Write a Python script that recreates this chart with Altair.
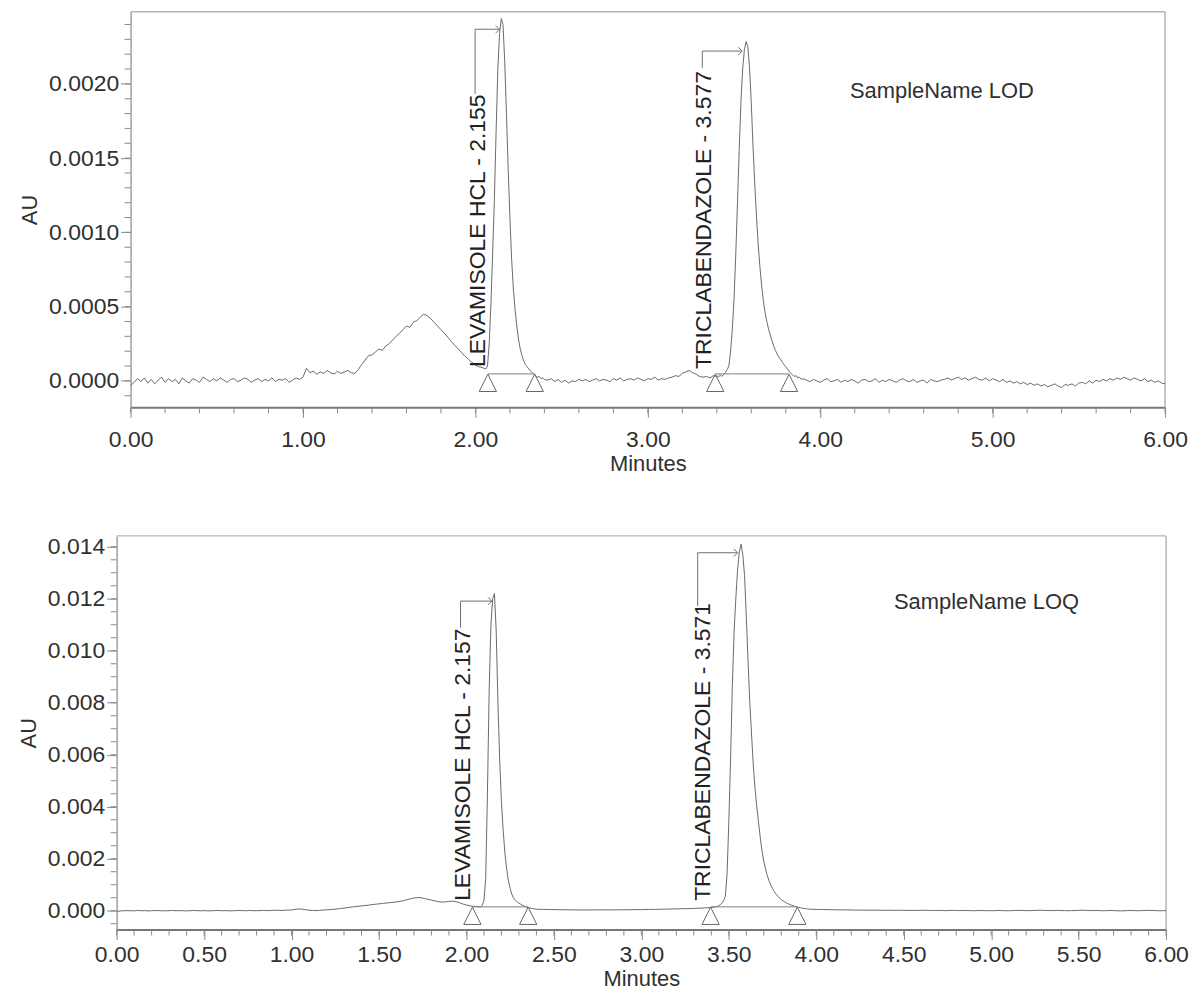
import numpy as np
import pandas as pd
import altair as alt

FONT = "Liberation Sans"
TXT = "#303030"
AXC = "#8a8a8a"
LINE = "#6a6a6a"
FRAME = "#b5b5b5"

# ---------------- LOD chromatogram (values in micro-AU) ----------------
# each segment: (start minute, sampling step, values)
lod_segments = [
    (0.00, 0.02, [-30, -10, 15, -5, 20, -15, 10, -20, 5, 25,
                  -10, 15, -5, 10, -20, 20, 0, -15, 15, 5,
                  -10, 25, 10, -5, 15, 0, 20, 5, -10, 10,
                  15, -5, 5, 20, 10, -10, 5, 15, -5, 10,
                  0, 20, -5, 10, 5, 15, -10, 5, 20, 10]),
    (1.00, 0.02, [25, 85, 55, 65, 45, 60, 50, 70, 55, 45, 65, 50, 60, 70, 55, 50]),
    (1.32, 0.02, [75, 110, 140, 170, 175, 195, 215, 205, 235, 250,
                  275, 300, 320, 345, 370, 360, 395, 405, 430, 448]),
    (1.72, 0.02, [440, 420, 395, 370, 345, 320, 295, 265, 240, 215,
                  190, 165, 145, 125, 105, 95, 90]),
    (2.05, 0.01, [85, 80, 100, 250, 520, 860, 1220, 1680, 2100, 2340,
                  2440, 2400, 2150, 1800, 1430, 1100, 820, 620, 480, 370,
                  280, 215, 170, 135, 110, 95, 80, 65, 55, 45,
                  35, 25, 30, 15, 20, 10]),
    (2.42, 0.02, [5, 15, -5, 10, -10, 5, -15, 0, -5, 10,
                  0, 10, -5, 5, 15, 0, 10, 5, -5, 15,
                  5, 20, 0, 10, 15, 5, 20, 10, 0, 15,
                  10, 25, 5, 15, 10, 20,
                  25, 35, 30, 50, 60, 70, 55, 45, 30, 25, 30, 20, 35]),
    (3.39, 0.01, [30, 35, 25, 40, 30, 45, 55, 75, 100, 200,
                  350, 550, 850, 1200, 1560, 1880, 2100, 2230, 2285, 2250,
                  2110, 1870, 1580, 1330, 1110, 920, 770, 640, 540, 460,
                  400, 350, 310, 270, 235, 205, 180, 160, 145, 125,
                  110, 95, 80, 65, 50, 40, 30, 35, 20, 25, 10, 15]),
    (3.92, 0.02, [5, -5, 10, 0, -10, 5, 15, -5, 0, 10,
                  -10, 5, -5, 10, 0, -15, 5, 10, -5, 0,
                  15, -10, 5, -5, 10, 0, -10, 5, 15, 0,
                  -5, 10, -10, 0, 5, -15, 10, 0, -5, 5,
                  10, 20, 5, 15, 25, 10, 20, 5, 15, 25,
                  10, 5, 20, 0, 15, 5, -5, 10, -10, 0,
                  -15, -5, -20, -10, -25, -15, -30, -20, -35, -25,
                  -40, -30, -20, -35, -45, -25, -30, -20, -35, -15,
                  -10, -20, 0, -15, 5, -5, 10, 0, 15, 5,
                  20, 10, 25, 15, 5, 20, 10, 0, 15, -5,
                  5, -10, 0, -15, -20]),
]

# ---------------- LOQ chromatogram (values in micro-AU) ----------------
loq_segments = [
    (0.00, 0.02, [-30, -10, 0, 5, 0, -5, 10, 0, 5, -5,
                  0, 10, 5, 0, -5, 5, 10, 0, 5, 0,
                  -5, 0, 10, 5, 0, 5, -5, 0, 5, 10,
                  0, 5, 0, -5, 5, 10, 5, 0, 10, 5,
                  0, 10, 15, 5, 10, 20, 15, 10, 20, 25]),
    (1.00, 0.02, [30, 50, 70, 60, 40, 20, 10, 5, 15, 25, 35]),
    (1.22, 0.02, [45, 55, 70, 85, 100, 120, 140, 155, 170, 185,
                  200, 215, 235, 250, 265, 280, 295, 310, 325, 340]),
    (1.62, 0.02, [360, 390, 420, 460, 490, 510, 500, 470, 440, 410]),
    (1.82, 0.02, [380, 350, 335, 340, 360, 370, 350, 310, 260, 220, 190, 170, 160, 150]),
    (2.09, 0.01, [200, 400, 1200, 4500, 8500, 11000, 12000, 12200, 10800, 8000,
                  5800, 4200, 3100, 2200, 1600, 1150, 850, 620, 480, 400,
                  340, 290, 250, 210, 180, 150, 130, 110, 95, 80, 70, 60]),
    (2.42, 0.02, [55, 50, 50, 45, 45, 40, 40, 40, 35, 35,
                  35, 30, 30, 30, 30, 35, 30, 30, 35, 35,
                  30, 35, 35, 40, 35, 40, 40, 45, 40, 45,
                  45, 50, 50, 55, 55, 60, 60, 65, 70, 70,
                  75, 80, 80, 85, 90, 95, 100, 110, 115, 125, 140]),
    (3.43, 0.01, [160, 190, 230, 290, 380, 550, 1400, 3400, 5800, 8600,
                  10700, 12000, 13100, 13800, 14100, 13700, 12900, 11300, 9600, 8000,
                  6800, 5600, 4700, 4000, 3400, 2800, 2300, 1900, 1600, 1350,
                  1150, 980, 850, 740, 640, 560, 490, 430, 380, 340,
                  300, 265, 235, 210, 185, 165, 145, 130, 115, 100, 90, 80, 70]),
    (3.96, 0.02, [60, 55, 50, 50, 45, 45, 40, 40, 35, 35,
                  30, 30, 30, 25, 25, 25, 20, 20, 25, 20,
                  20, 15, 20, 20, 15, 15, 20, 15, 10, 15,
                  15, 10, 15, 20, 15, 10, 10, 15, 10, 5,
                  10, 15, 10, 5, 10, 10, 5, 0, 5, 10,
                  5, 5, 0, 5, 10, 5, 0, 0, 5, 10,
                  15, 10, 5, 5, 10, 15, 20, 15, 10, 5,
                  10, 15, 10, 5, 0, 5, 10, 15, 20, 15,
                  10, 5, 10, 5, 0, 5, 10, 5, 0, -5,
                  0, 5, 10, 5, 0, 5, 10, 15, 10, 5,
                  0, 0, 5]),
]

# ---------------- peak annotations ----------------
lod_peak_label = ["LEVAMISOLE HCL - 2.155", "TRICLABENDAZOLE - 3.577"]
lod_peak_tx = [2.057, 3.368]        # label baseline position (min)
lod_peak_ty = [0.000094, 0.000080]  # label start (AU)
lod_peak_vx = [1.998, 3.316]        # bracket vertical (min)
lod_peak_tt = [0.001933, 0.002107]  # bracket lower end (AU)
lod_peak_by = [0.002368, 0.002221]  # bracket level (AU)
lod_peak_tip = [2.140, 3.547]       # arrow tip (min)

loq_peak_label = ["LEVAMISOLE HCL - 2.157", "TRICLABENDAZOLE - 3.571"]
loq_peak_tx = [2.023, 3.390]
loq_peak_ty = [0.00038, 0.00038]
loq_peak_vx = [1.966, 3.322]
loq_peak_tt = [0.01088, 0.01172]
loq_peak_by = [0.01191, 0.01377]
loq_peak_tip = [2.145, 3.550]

# integration markers (baseline start/end)
lod_mark_t = [2.072, 2.344, 3.391, 3.819]
lod_mark_y = [0.000047, 0.000047, 0.000047, 0.000047]
loq_mark_t = [2.034, 2.353, 3.396, 3.892]
loq_mark_y = [0.00015, 0.00015, 0.00015, 0.00015]

# axis ticks
lod_y_ticks = [0.0, 0.0005, 0.0010, 0.0015, 0.0020]
loq_y_ticks = [0.0, 0.002, 0.004, 0.006, 0.008, 0.010, 0.012, 0.014]
lod_x_ticks = [0.0, 1.0, 2.0, 3.0, 4.0, 5.0, 6.0]
loq_x_ticks = [0.0, 0.5, 1.0, 1.5, 2.0, 2.5, 3.0, 3.5, 4.0, 4.5, 5.0, 5.5, 6.0]


def to_frame(segments):
    t, v = [], []
    for start, step, vals in segments:
        for i, val in enumerate(vals):
            t.append(round(start + step * i, 4))
            v.append(val * 1e-6)
    return pd.DataFrame({"t": t, "au": v})


def peaks_frame(label, tx, ty, vx, tt, by, tip):
    return pd.DataFrame({"label": label, "tx": tx, "ty": ty, "vx": vx,
                         "tt": tt, "by": by, "tip": tip})


def marks_frame(t, y):
    return pd.DataFrame({"t": t, "y": y})


def panel(trace, W, H, inset, ydom, yticks, yfmt, yminor, xticks, xminor, xlabpad, xtitlepad,
          peaks, marks, sample, sx, sy):
    # inset: empty pixels at the left of the plot group before the data area starts
    xs = alt.Scale(domain=[0, 6], nice=False, zero=False, range=[inset, W])
    ys = alt.Scale(domain=ydom, nice=False, zero=False)
    xaxis = alt.Axis(values=xticks, format=".2f", title="Minutes", tickSize=10,
                     labelPadding=xlabpad, titlePadding=xtitlepad)
    yaxis = alt.Axis(values=yticks, format=yfmt, title="AU", tickSize=10,
                     labelPadding=2, titlePadding=7, offset=-inset)

    def X(f):
        return alt.X(f, scale=xs, axis=xaxis)

    def Y(f):
        return alt.Y(f, scale=ys, axis=yaxis)

    line = alt.Chart(trace).mark_line(color=LINE, strokeWidth=1, clip=True).encode(
        x=X("t:Q"), y=Y("au:Q"))
    ymin = alt.Chart(pd.DataFrame({"v": yminor})).mark_rule(color=AXC, strokeWidth=1).encode(
        y=Y("v:Q"), x=alt.value(inset - 6), x2=alt.value(inset))
    xmin = alt.Chart(pd.DataFrame({"v": xminor})).mark_rule(color=AXC, strokeWidth=1).encode(
        x=X("v:Q"), y=alt.value(H), y2=alt.value(H + 6))

    segs = pd.DataFrame({"t1": [marks["t"].iloc[0], marks["t"].iloc[2]],
                         "t2": [marks["t"].iloc[1], marks["t"].iloc[3]],
                         "y": [marks["y"].iloc[0], marks["y"].iloc[2]]})
    base = alt.Chart(segs).mark_rule(color="#808080", strokeWidth=1).encode(
        x=X("t1:Q"), x2="t2:Q", y=Y("y:Q"))
    tri = alt.Chart(marks).mark_point(shape="M0,-1L1,1L-1,1Z", filled=False, size=300,
                                      yOffset=9, color="#666666", strokeWidth=1,
                                      opacity=1).encode(x=X("t:Q"), y=Y("y:Q"))

    pk = alt.Chart(peaks)
    vline = pk.mark_rule(color="#707070", strokeWidth=1).encode(
        x=X("vx:Q"), y=Y("tt:Q"), y2="by:Q")
    hline = pk.mark_rule(color="#707070", strokeWidth=1).encode(
        x=X("vx:Q"), x2="tip:Q", y=Y("by:Q"))
    arrow = pk.mark_point(shape="M-1,-1L0,0L-1,1", filled=False, size=60,
                          color="#707070", strokeWidth=1, opacity=1).encode(
        x=X("tip:Q"), y=Y("by:Q"))
    labels = pk.mark_text(angle=270, align="left", baseline="alphabetic", fontSize=23,
                          font=FONT, color="#222222").encode(
        x=X("tx:Q"), y=Y("ty:Q"), text="label:N")

    sname = alt.Chart(pd.DataFrame({"s": [sample]})).mark_text(
        align="left", baseline="middle", fontSize=22, font=FONT, color=TXT).encode(
        x=X("sx:Q"), y=Y("sy:Q"), text="s:N").transform_calculate(sx=str(sx), sy=str(sy))

    # plot frame (top and right edges)
    ftop = alt.Chart(pd.DataFrame({"k": [0]})).mark_rule(color=FRAME, strokeWidth=1.5).encode(
        x=alt.value(inset), x2=alt.value(W), y=alt.value(0))
    fright = alt.Chart(pd.DataFrame({"k": [0]})).mark_rule(color=FRAME, strokeWidth=1.5).encode(
        x=alt.value(W), y=alt.value(0), y2=alt.value(H))

    return alt.layer(ftop, fright, line, ymin, xmin, base, tri, vline, hline, arrow, labels,
                     sname).properties(width=W, height=H,
                                       view=alt.ViewBackground(strokeOpacity=0))


top = panel(to_frame(lod_segments), 1052, 397, 14, [-0.000178, 0.0024863], lod_y_ticks, ".4f",
            list(np.round(np.arange(-0.0001, 0.00245, 0.0001), 6)),
            lod_x_ticks, list(np.round(np.arange(0, 6.001, 0.2), 3)), 11, 2,
            peaks_frame(lod_peak_label, lod_peak_tx, lod_peak_ty, lod_peak_vx,
                        lod_peak_tt, lod_peak_by, lod_peak_tip),
            marks_frame(lod_mark_t, lod_mark_y), "SampleName LOD", 4.172, 0.001953)

bottom = panel(to_frame(loq_segments), 1053, 395, 0, [-0.000723, 0.014419], loq_y_ticks, ".3f",
               list(np.round(np.arange(-0.0005, 0.01441, 0.0005), 6)),
               loq_x_ticks, list(np.round(np.arange(0, 6.001, 0.1), 3)), 4, 2,
               peaks_frame(loq_peak_label, loq_peak_tx, loq_peak_ty, loq_peak_vx,
                           loq_peak_tt, loq_peak_by, loq_peak_tip),
               marks_frame(loq_mark_t, loq_mark_y), "SampleName LOQ", 4.444, 0.01187)

chart = alt.vconcat(top, bottom, spacing=61).properties(
    padding={"left": 9, "top": 1, "right": 0, "bottom": 0}
).configure(font=FONT).configure_axis(
    labelFont=FONT, labelFontSize=23, labelColor=TXT,
    titleFont=FONT, titleFontSize=22, titleFontWeight="normal", titleColor=TXT,
    tickColor=AXC, tickWidth=1, grid=False, labelFlush=False, labelOverlap=False,
    domainColor="#a0a0a0", domainWidth=1.5,
).configure_axisX(domainColor="#777777", domainWidth=2).configure_view(
    stroke=FRAME, strokeWidth=1.5)

chart.save("out.html", embed_options={"renderer": "svg", "actions": False})
